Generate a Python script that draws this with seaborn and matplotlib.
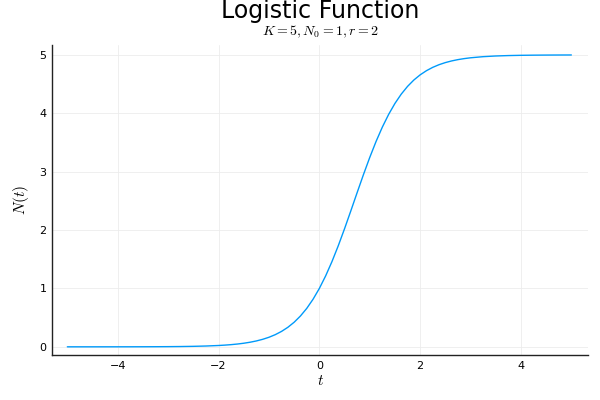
import matplotlib
matplotlib.use("Agg")
import matplotlib.pyplot as plt
import seaborn as sns
import pandas as pd

t_vals = [-5.0, -4.75, -4.5, -4.25, -4.0, -3.75, -3.5, -3.25, -3.0, -2.75, -2.5, -2.25,
          -2.0, -1.875, -1.75, -1.625, -1.5, -1.375, -1.25, -1.125, -1.0, -0.875, -0.75,
          -0.625, -0.5, -0.375, -0.25, -0.125, 0.0, 0.125, 0.25, 0.375, 0.5, 0.625, 0.75,
          0.875, 1.0, 1.125, 1.25, 1.375, 1.5, 1.625, 1.75, 1.875, 2.0, 2.125, 2.25,
          2.375, 2.5, 2.625, 2.75, 2.875, 3.0, 3.25, 3.5, 3.75, 4.0,
          4.25, 4.5, 4.75, 5.0]
n_vals = [0.0000568, 0.0000936, 0.0001543, 0.0002543, 0.0004193, 0.0006913, 0.0011396,
          0.0018786, 0.0030965, 0.0051032, 0.0084083, 0.013848,
          0.022790, 0.029226, 0.037464, 0.048003, 0.061469, 0.078651, 0.10054, 0.12837,
          0.16363, 0.20818, 0.26417, 0.33420, 0.42112, 0.52809, 0.65834, 0.81485,
          1.0, 1.2150, 1.4594, 1.7304, 2.0231, 2.3299, 2.6420, 2.9497, 3.2439, 3.5172,
          3.7641, 3.9818, 4.1696, 4.3286, 4.4611, 4.5701, 4.6587, 4.7301, 4.7873,
          4.8328, 4.8688, 4.8972, 4.9196, 4.9371, 4.9509, 4.9701, 4.9818, 4.9890, 4.9933,
          4.9959, 4.9975, 4.9985, 4.9991]
x_ticks = [-4, -2, 0, 2, 4]
y_ticks = [0, 1, 2, 3, 4, 5]

df = pd.DataFrame({"t": t_vals, "N": n_vals})

sns.set_style("white")
plt.rcParams["mathtext.fontset"] = "cm"
plt.rcParams["text.color"] = "black"

fig = plt.figure(figsize=(6, 4), dpi=100)
ax = fig.add_axes([0.087, 0.1125, 0.893, 0.775])
sns.lineplot(data=df, x="t", y="N", ax=ax, color="#009AFA", linewidth=1.0)

ax.set_xlim(-5.3, 5.33)
ax.set_ylim(-0.14, 5.17)
ax.set_xticks(x_ticks)
ax.set_yticks(y_ticks)
ax.set_xticklabels(["\u2212" + str(abs(v)) if v < 0 else str(v) for v in x_ticks])
ax.grid(True, color="#ececec", linewidth=0.6)
for s in ["top", "right"]:
    ax.spines[s].set_visible(False)
for s in ["left", "bottom"]:
    ax.spines[s].set_color("#222222")
    ax.spines[s].set_linewidth(1.0)
ax.tick_params(direction="in", length=3, width=0.6, labelsize=8, colors="black", pad=4)
ax.set_xlabel("$t$", fontsize=11, labelpad=2, color="black")
ax.set_ylabel("$N(t)$", fontsize=11, labelpad=6, color="black")

fig.text(0.533, 0.972, "Logistic Function", ha="center", va="center", fontsize=17,
         color="black")
ax.set_title("$K = 5, N_0 = 1, r = 2$", fontsize=10, pad=7, color="black")

fig.savefig("out.png", dpi=100)
